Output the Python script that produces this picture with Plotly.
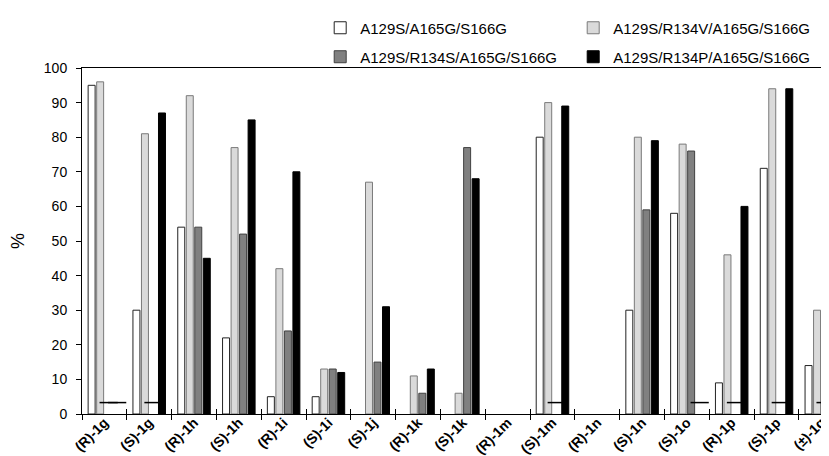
import plotly.graph_objects as go

categories = ["(R)-1g", "(S)-1g", "(R)-1h", "(S)-1h", "(R)-1i", "(S)-1i", "(S)-1j",
              "(R)-1k", "(S)-1k", "(R)-1m", "(S)-1m", "(R)-1n", "(S)-1n", "(S)-1o",
              "(R)-1p", "(S)-1p", "(±)-1q"]

series_names = ["A129S/A165G/S166G", "A129S/R134V/A165G/S166G",
                "A129S/R134S/A165G/S166G", "A129S/R134P/A165G/S166G"]

white_vals = [95, 30, 54, 22, 5, 5, None, None, None, None, 80, None, 30, 58, 9, 71, 14]
light_vals = [96, 81, 92, 77, 42, 13, 67, 11, 6, None, 90, None, 80, 78, 46, 94, 30]
dark_vals = [None, None, 54, 52, 24, 13, 15, 6, 77, None, None, None, 59, 76, None, None, None]
black_vals = [None, 87, 45, 85, 70, 12, 31, 13, 68, None, 89, None, 79, None, 60, 94, 95]

# not-determined marks (short dash) per series
nd_dark = ["(R)-1g", "(S)-1g", "(S)-1m", "(R)-1p", "(S)-1p", "(±)-1q"]
nd_black = ["(R)-1g", "(S)-1o"]
ND_LEVEL = 3.3

y_ticks = list(range(0, 101, 10))

fills = ["#FFFFFF", "#DADADA", "#808080", "#000000"]
outlines = ["#222222", "#7A7A7A", "#404040", "#000000"]
all_vals = [white_vals, light_vals, dark_vals, black_vals]
legend_ids = ["legend", "legend", "legend2", "legend2"]

FONT = "Liberation Sans, Arial, sans-serif"
BARGAP = 0.24
BARGROUPGAP = 0.18
X_RANGE = [-0.5, 16.35]

fig = go.Figure()
for name, vals, fc, lc, lg in zip(series_names, all_vals, fills, outlines, legend_ids):
    fig.add_trace(go.Bar(x=categories, y=vals, name=name, legend=lg,
                         marker=dict(color=fc, line=dict(color=lc, width=1))))

# dash positions derived from bar group geometry
n_series = 4
group_w = 1 - BARGAP
slot = group_w / n_series
def slot_offset(s):
    return -group_w / 2 + (s + 0.5) * slot

nd_x, nd_y = [], []
for s, nd_list in ((2, nd_dark), (3, nd_black)):
    for c in nd_list:
        nd_x.append(categories.index(c) + slot_offset(s))
        nd_y.append(ND_LEVEL)

fig.add_trace(go.Scatter(x=nd_x, y=nd_y, xaxis="x2", mode="markers", showlegend=False,
                         marker=dict(symbol="line-ew", size=13,
                                     line=dict(color="#000000", width=1.5)),
                         hoverinfo="skip"))

legend_common = dict(orientation="h", x=0.3155, xanchor="left", yanchor="middle",
                     entrywidth=208, entrywidthmode="pixels",
                     font=dict(family=FONT, size=15, color="#000000"),
                     bgcolor="rgba(0,0,0,0)", itemwidth=30, traceorder="normal")

fig.update_layout(
    width=829, height=456,
    margin=dict(l=74, r=0, t=60, b=50, autoexpand=False),
    paper_bgcolor="white", plot_bgcolor="white",
    barmode="group", bargap=BARGAP, bargroupgap=BARGROUPGAP,
    font=dict(family=FONT, size=13, color="#000000"),
    xaxis=dict(type="category", range=X_RANGE, tickson="boundaries", ticks="outside",
               ticklen=5, tickcolor="#000000", showline=True, linecolor="#000000",
               linewidth=1, mirror=True, showgrid=False, tickangle=-45,
               ticklabelstandoff=-6,
               tickfont=dict(family=FONT, size=14, color="#000000", weight="bold")),
    xaxis2=dict(overlaying="x", range=X_RANGE, anchor="y", side="bottom",
                tickmode="array", tickvals=[i - 0.5 for i in range(len(categories) + 1)],
                ticks="inside", ticklen=5, tickcolor="#000000", showticklabels=False,
                showline=False, showgrid=False, zeroline=False),
    yaxis=dict(range=[0, 100], tickmode="array", tickvals=y_ticks, ticks="outside",
               ticklen=5, tickcolor="#000000", showline=True, linecolor="#000000",
               linewidth=1, showgrid=False, zeroline=False, ticklabelstandoff=6,
               tickfont=dict(family=FONT, size=14, color="#000000"),
               title=dict(text="%", font=dict(family=FONT, size=18), standoff=16)),
    legend=dict(y=1.1156, **legend_common),
    legend2=dict(y=1.0318, **legend_common),
)

fig.write_html("out.html")
